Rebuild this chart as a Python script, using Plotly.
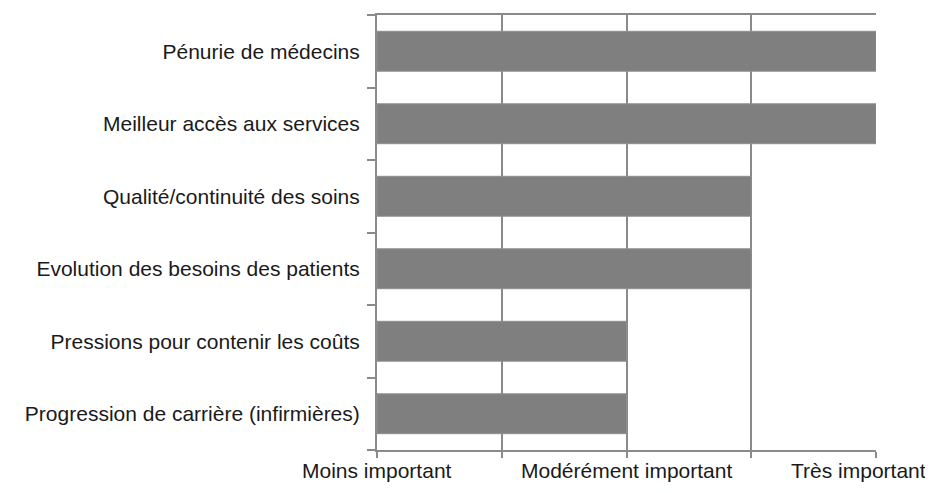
import plotly.graph_objects as go

categories = [
    "Pénurie de médecins",
    "Meilleur accès aux services",
    "Qualité/continuité des soins",
    "Evolution des besoins des patients",
    "Pressions pour contenir les coûts",
    "Progression de carrière (infirmières)",
]
values = [4, 4, 3, 3, 2, 2]
tick_values = [0, 1, 2, 3, 4]
tick_labels = ["Moins important", "", "Modérément important", "", "Très important"]

GRID = "#8a8a8a"
BAR = "#7f7f7f"
FONT = "Liberation Sans, Arial, sans-serif"
FSIZE = 21

fig = go.Figure()
fig.add_trace(go.Bar(
    y=categories, x=values, orientation="h",
    marker=dict(color=BAR, line=dict(color="#8f8f8f", width=1)),
    hoverinfo="skip",
))

annotations = []
for v, t in zip(tick_values, tick_labels):
    if not t:
        continue
    last = v == tick_values[-1]
    annotations.append(dict(
        x=v, y=0, xref="x", yref="paper", text=t, showarrow=False,
        xanchor="right" if last else "center", yanchor="top",
        yshift=-7, xshift=52 if last else 0,
        font=dict(family=FONT, size=FSIZE, color="#1a1a1a"),
    ))

fig.update_layout(
    width=925, height=485,
    margin=dict(l=369, r=57, t=5, b=43),
    paper_bgcolor="white", plot_bgcolor="white",
    bargap=0.45,
    showlegend=False,
    font=dict(family=FONT, size=FSIZE, color="#1a1a1a"),
    annotations=annotations,
    xaxis=dict(
        range=[0, 4], tickvals=tick_values, showticklabels=False,
        showgrid=True, gridcolor=GRID, gridwidth=2,
        showline=True, linecolor=GRID, linewidth=2, mirror=True,
        ticks="outside", ticklen=6, tickcolor=GRID, tickwidth=2,
        zeroline=False, fixedrange=True,
    ),
    yaxis=dict(
        categoryorder="array", categoryarray=categories[::-1],
        showline=True, linecolor=GRID, linewidth=2,
        ticks="outside", tickson="boundaries", ticklen=8, tickcolor=GRID, tickwidth=2,
        ticklabelstandoff=11,
        showgrid=False, zeroline=False, fixedrange=True,
        tickfont=dict(family=FONT, size=FSIZE, color="#1a1a1a"),
    ),
)

fig.write_html("out.html")
